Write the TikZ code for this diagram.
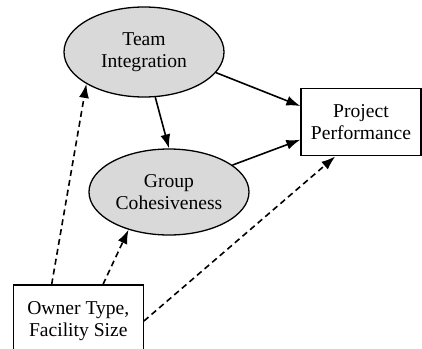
\documentclass[tikz,border=0pt]{standalone}
\usepackage{fontspec}
\setmainfont{Liberation Serif}
\usetikzlibrary{arrows.meta,shapes.geometric}

\tikzset{
  latent/.style={ellipse, draw, fill=gray!30, line width=1.3pt, inner sep=0pt,
    minimum width=160pt, align=center},
  obsbox/.style={rectangle, draw, line width=1.3pt, inner sep=0pt, align=center},
  path/.style={line width=1.6pt, -{Latex[length=14pt,width=10pt]}},
  ctrl/.style={path, dash pattern=on 6pt off 4pt},
}

\begin{document}
\begin{tikzpicture}[x=1pt, y=1pt, font=\fontsize{19.6}{22}\selectfont]
						\useasboundingbox (0,0) rectangle (422,-348);
						\clip (0,0) rectangle (422,-348);
						\node[latent, minimum height=90pt] (ti) at (144, -52) {Team\\Integration};
						\node[latent, minimum height=86pt] (gc) at (169, -192) {Group\\Cohesiveness};
						\node[obsbox, minimum width=120pt, minimum height=67pt] (pp) at (361, -122.3) {Project\\Performance};
						\node[obsbox, minimum width=130pt, minimum height=72pt] (ow) at (78.3, -321) {Owner Type,\\Facility Size};
						\draw[path] (ti.-16) -- (pp.165);
						\draw[path] (ti.-76) -- (gc.north);
						\draw[path] (gc.23) -- (pp.196);
						\draw[ctrl] (ow.126) -- (ti.209);
						\draw[ctrl] (ow.56) -- (gc.223);
						\draw[ctrl] (ow.east) -- (pp.233);
					\end{tikzpicture}
\end{document}
